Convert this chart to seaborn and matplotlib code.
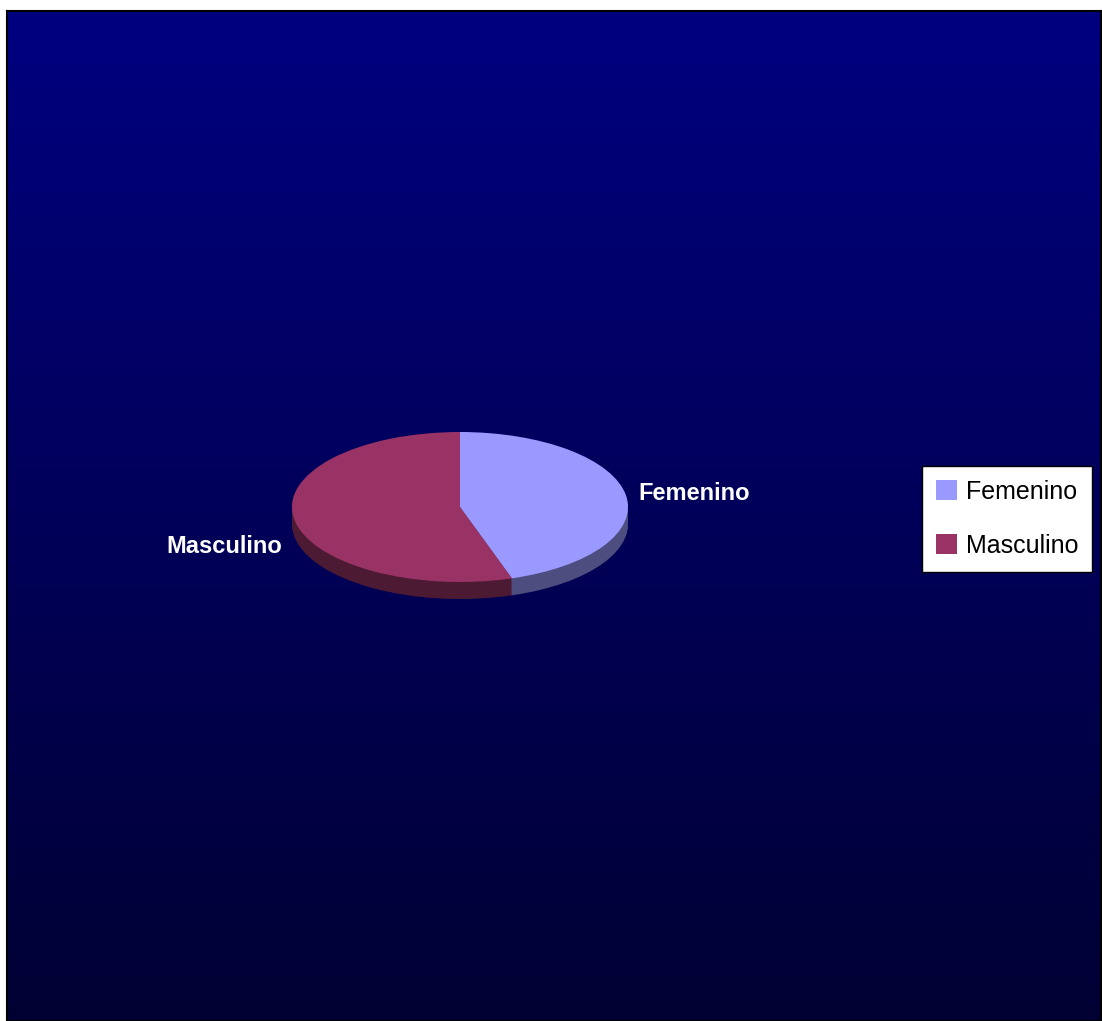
import numpy as np
import matplotlib
matplotlib.use("Agg")
import matplotlib.pyplot as plt
import seaborn as sns
from matplotlib.colors import LinearSegmentedColormap

# ---- data ----
categories = ["Femenino", "Masculino"]
values = [45, 55]
top_colors = ["#9999FF", "#993366"]
side_colors = ["#4D4D80", "#4D1A33"]

sns.set_style("white")
plt.rcParams["font.family"] = ["Liberation Sans", "DejaVu Sans"]

W, H = 1102, 1021
fig = plt.figure(figsize=(W / 100, H / 100), dpi=100)
fig.patch.set_facecolor("white")

# background gradient panel
bg = fig.add_axes([7 / W, 0, (1101 - 7) / W, (H - 11) / H])
cmap = LinearSegmentedColormap.from_list("bg", ["#000080", "#000033"])
grad = np.linspace(0, 1, 256).reshape(-1, 1)
bg.imshow(grad, aspect="auto", cmap=cmap, extent=[0, 1, 0, 1], origin="upper")
bg.set_xticks([]); bg.set_yticks([])
for s in bg.spines.values():
    s.set_color("black"); s.set_linewidth(1.5)

# pie axes (elliptical by unequal scales)
pa = fig.add_axes([0, 0, 1, 1])
pa.patch.set_alpha(0)
cx, cy = 460, H - 507
a, b = 168, 75
depth = 17
for k in range(depth, 0, -1):
    pa.pie(values, colors=side_colors, startangle=90, counterclock=False,
           center=(0, -k / b), wedgeprops=dict(linewidth=0))
wedges, _ = pa.pie(values, colors=top_colors, startangle=90, counterclock=False,
                   center=(0, 0), wedgeprops=dict(linewidth=0))
pa.set_aspect("auto")
pa.set_xlim(-cx / a, (W - cx) / a)
pa.set_ylim(-cy / b, (H - cy) / b)
pa.axis("off")

# data labels
fig.text(638 / W, 1 - 493 / H, categories[0], color="white", fontsize=17,
         fontweight="bold", ha="left", va="center")
fig.text(282 / W, 1 - 546 / H, categories[1], color="white", fontsize=17,
         fontweight="bold", ha="right", va="center")

leg = pa.legend(wedges, categories, loc="upper left",
                bbox_to_anchor=(922 / W, 1 - 466 / H), bbox_transform=fig.transFigure,
                fontsize=18, frameon=True, fancybox=False, edgecolor="black",
                framealpha=1, handlelength=0.85, handleheight=0.85, handletextpad=0.35,
                labelspacing=1.2, borderpad=0.55, borderaxespad=0, labelcolor="black")
leg.get_frame().set_linewidth(1.0)

fig.savefig("out.png", dpi=100, facecolor="white")
